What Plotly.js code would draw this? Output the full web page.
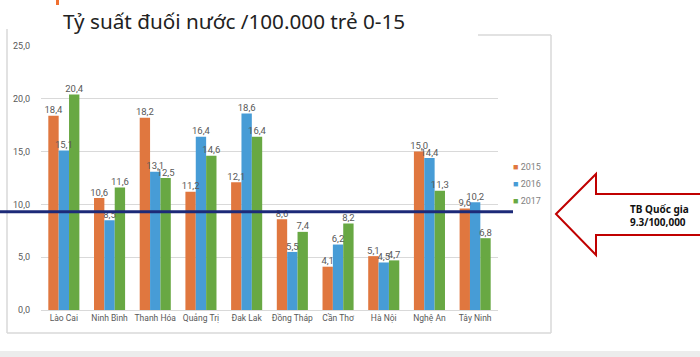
<!DOCTYPE html>
<html>
<head>
<meta charset="utf-8">
<script src="https://cdn.plot.ly/plotly-3.0.1.min.js"></script>
<style>
html,body{margin:0;padding:0;background:#fff;}
#chart{width:700px;height:357px;}
</style>
</head>
<body>
<div id="chart"></div>
<script>
const categories = ["Lào Cai","Ninh Bình","Thanh Hóa","Quảng Trị","Đak Lak","Đồng Tháp","Cần Thơ","Hà Nội","Nghệ An","Tây Ninh"];
const years = ["2015","2016","2017"];
const v2015 = [18.4,10.6,18.2,11.2,12.1,8.6,4.1,5.1,15.0,9.6];
const v2016 = [15.1,8.5,13.1,16.4,18.6,5.5,6.2,4.5,14.4,10.2];
const v2017 = [20.4,11.6,12.5,14.6,16.4,7.4,8.2,4.7,11.3,6.8];
const nationalAvg = 9.3;
const yTicks = [0,5,10,15,20,25];
const colors = ["#E0773F","#479CD6","#68A843"];

const fmt = v => v.toFixed(1).replace(".", ",");
const series = [v2015, v2016, v2017];

const barTraces = series.map((vals, i) => ({
  type: "bar",
  name: years[i],
  x: categories,
  y: vals,
  alignmentgroup: "a",
  offsetgroup: years[i],
  marker: {color: colors[i], line: {width: 0}},
  hoverinfo: "none",
  showlegend: false
}));
// data labels drawn on top of all bars (as in the reference)
const labelTraces = series.map((vals, i) => ({
  type: "scatter",
  mode: "text",
  x: categories,
  y: vals,
  alignmentgroup: "a",
  offsetgroup: years[i],
  text: vals.map(fmt),
  textposition: "top center",
  cliponaxis: false,
  textfont: {family: "Roboto, sans-serif", size: 9.5, color: "#595959"},
  hoverinfo: "none",
  showlegend: false
}));

// plot area px
const L = 41, R = 498, T = 46, B = 310;
const W = R - L;
const px = x => (x - L) / W;
const py = y => (B - y) / (B - T);

const shapes = [
  {type:"line", xref:"paper", yref:"paper", x0:px(7), x1:px(7), y0:py(29), y1:py(333), line:{color:"#d9d9d9", width:1.5}},
  {type:"line", xref:"paper", yref:"paper", x0:px(7), x1:px(551), y0:py(333), y1:py(333), line:{color:"#d9d9d9", width:1.5}},
  {type:"line", xref:"paper", yref:"paper", x0:px(551), x1:px(551), y0:py(35), y1:py(333), line:{color:"#d9d9d9", width:1.5}},
  {type:"line", xref:"paper", yref:"paper", x0:px(478), x1:px(551), y0:py(35), y1:py(35), line:{color:"#d9d9d9", width:1.5}},
  {type:"rect", xref:"paper", yref:"paper", x0:px(0), x1:px(700), y0:py(351), y1:py(357), fillcolor:"#ececec", line:{width:0}},
  {type:"rect", xref:"paper", yref:"paper", x0:px(56), x1:px(59), y0:py(0), y1:py(5), fillcolor:"#F07030", line:{width:0}},
  {type:"line", xref:"paper", yref:"y", x0:px(0), x1:px(513), y0:nationalAvg, y1:nationalAvg, line:{color:"#1C2A78", width:3}},
  {type:"path", xref:"paper", yref:"paper",
   path: (() => {
     const P = (x,y) => px(x).toFixed(5) + "," + py(y).toFixed(5);
     return "M" + P(556,214) + " L" + P(596,174) + " L" + P(596,194) + " L" + P(705,194) +
            " L" + P(705,235) + " L" + P(596,235) + " L" + P(596,255) + " Z";
   })(),
   fillcolor:"#ffffff", line:{color:"#C00000", width:2}}
];

const annotations = [
  {xref:"paper", yref:"paper", x:px(61), y:py(21), xanchor:"left", yanchor:"middle",
   text:"Tỷ suất đuối nước /100.000 trẻ 0-15", showarrow:false,
   font:{family:"Noto Sans, sans-serif", size:20.7, color:"#222"}},
  {xref:"paper", yref:"paper", x:px(628), y:py(215), xanchor:"left", yanchor:"middle",
   text:"<b>TB Quốc gia</b><br><b>9.3/100,000</b>", align:"left", showarrow:false,
   font:{family:"Noto Sans, sans-serif", size:10, color:"#111"}}
];
years.forEach((yr, i) => {
  annotations.push({xref:"paper", yref:"paper", x:px(511), y:py(167+17*i), xanchor:"left", yanchor:"middle",
    text:'<span style="color:' + colors[i] + '">■</span> ' + yr, showarrow:false,
    font:{family:"Roboto, sans-serif", size:9, color:"#7f7f7f"}});
});

const layout = {
  width: 700, height: 357,
  margin: {l: L, r: 700 - R, t: T, b: 357 - B, pad: 0},
  paper_bgcolor: "#ffffff", plot_bgcolor: "#ffffff",
  barmode: "group", bargap: 0.32, bargroupgap: 0,
  scattermode: "group", scattergap: 0.32,
  showlegend: false,
  xaxis: {
    type: "category", showgrid: false, showline: true, linecolor: "#d9d9d9", linewidth: 1,
    ticks: "", tickfont: {family: "Roboto, sans-serif", size: 8.5, color: "#595959"}
  },
  yaxis: {
    range: [0, 25], tickvals: yTicks, ticktext: yTicks.map(fmt),
    showgrid: true, gridcolor: "#d9d9d9", gridwidth: 1, zeroline: false,
    showline: false, ticks: "", ticklabelstandoff: 10,
    tickfont: {family: "Roboto, sans-serif", size: 9, color: "#595959"}
  },
  shapes: shapes,
  annotations: annotations
};

Plotly.newPlot("chart", barTraces.concat(labelTraces), layout, {displayModeBar: false, staticPlot: true});
</script>
</body>
</html>
